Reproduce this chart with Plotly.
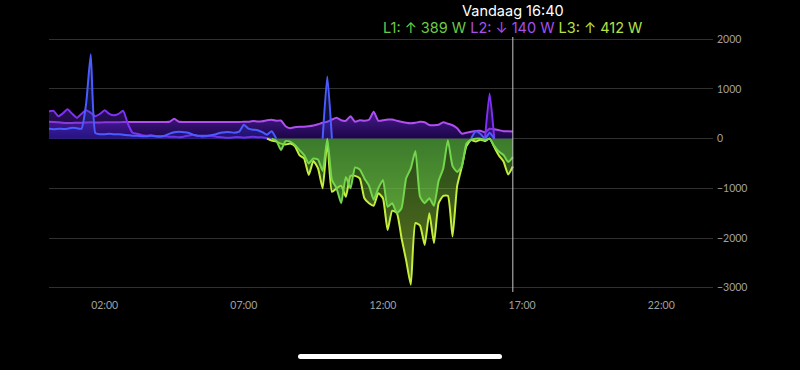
import plotly.graph_objects as go

# ---------------- data (10-minute samples from 00:00 to 16:40, watts) ----------------
START_HOUR = 0.0
STEP_MINUTES = 10

L1 = [200, 190, 200, 195, 200, 220, 210, 200, 700, 1700,
      110, 90, 90, 100, 90, 90, 80, 70, 60, 60,
      50, 50, 60, 50, 50, 60, 100, 130, 140, 130,
      120, 80, 60, 60, 60, 70, 90, 120, 130, 130,
      120, 140, 280, 200, 180, 170, 130, 80, 150, -40,
      -230, -50, -60, -130, -230, -330, -500, -400, -420, -650,
      1250, -830, -1000, -1300, -770, -1000, -580, -620, -800, -950,
      -1230, -1000, -830, -1370, -1300, -1500, -1400, -800, -600, -250,
      -1170, -1300, -1200, -1350, -850, -600, -30, -550, -670, -560,
      -100, -20, 150, 100, -30, 120, -150, -260, -330, -470,
      -370]

L2 = [340, 335, 330, 320, 315, 315, 320, 320, 325, 330,
      325, 325, 330, 330, 330, 330, 335, 335, 335, 335,
      335, 335, 335, 335, 335, 335, 340, 400, 340, 335,
      335, 335, 335, 335, 335, 335, 335, 335, 335, 335,
      335, 335, 340, 340, 355, 345, 350, 370, 380, 360,
      365, 250, 210, 230, 237, 240, 250, 265, 290, 320,
      340, 385, 420, 370, 360, 450, 340, 370, 360, 380,
      540, 360, 370, 385, 385, 360, 340, 320, 310, 320,
      340, 330, 275, 270, 280, 330, 300, 270, 210, 100,
      120, 140, 155, 157, 130, 200, 190, 170, 150, 150,
      145]

L3 = [550, 560, 450, 510, 590, 500, 420, 500, 570, 520,
      450, 500, 570, 500, 470, 500, 560, 300, 120, 100,
      70, 60, 70, 50, 40, 50, 40, 40, 30, 40,
      60, 80, 60, 40, 50, 60, 40, 30, 20, 20,
      30, 30, 20, 30, 40, 30, 30, 10, -40, -60,
      -100, -120, -100, -150, -330, -400, -730, -450, -600, -1000,
      -50, -1070, -1000, -950, -1170, -750, -750, -800, -1200, -1300,
      -1350, -1100, -1200, -1840, -1450, -1500, -2000, -2450, -2940, -1700,
      -1750, -2140, -1500, -2100, -1300, -1150, -1150, -1970, -950, -570,
      -150, -30, -60, -20, -50, 910, -170, -340, -460, -720,
      -560]

TIMES = [START_HOUR + i * STEP_MINUTES / 60 for i in range(len(L1))]

X_TICK_HOURS = [2, 7, 12, 17, 22]
X_TICK_LABELS = ["02:00", "07:00", "12:00", "17:00", "22:00"]
Y_TICKS = [2000, 1000, 0, -1000, -2000, -3000]

CURSOR_HOUR = 16 + 40 / 60
HEADER = "Vandaag 16:40"
READOUT_NAMES = ["L1", "L2", "L3"]
READOUT_ARROWS = ["↑", "↓", "↑"]
READOUT_WATTS = [389, 140, 412]
READOUT_COLORS = ["#6cca48", "#a64ff0", "#b6e245"]

# ---------------- helpers ----------------
def part(vals, sign):
    raw = [v if v * sign > 0 else 0 for v in vals]
    n = len(raw)
    out = []
    for i, v in enumerate(raw):
        if v != 0:
            out.append(v)
        elif (i > 0 and raw[i - 1] != 0) or (i < n - 1 and raw[i + 1] != 0):
            out.append(0)
        else:
            out.append(None)
    return out


def area(vals, line_color, c_low, c_high):
    return go.Scatter(
        x=TIMES, y=vals, mode="lines",
        line=dict(color=line_color, width=2, shape="spline", smoothing=0.5),
        fill="tozeroy",
        fillgradient=dict(type="vertical", colorscale=[[0, c_low], [1, c_high]]),
        hoverinfo="skip", showlegend=False, connectgaps=False,
    )


fig = go.Figure()
# positive (consumption) parts
fig.add_trace(area(part(L2, 1), "#b04ef2", "rgba(45,8,120,0.6)", "rgba(120,45,235,0.6)"))
fig.add_trace(area(part(L3, 1), "#8030f6", "rgba(55,12,150,0.4)", "rgba(125,55,245,0.4)"))
fig.add_trace(area(part(L1, 1), "#4a5cff", "rgba(40,50,200,0.25)", "rgba(70,90,255,0.3)"))
# negative (production) parts
fig.add_trace(area(part(L3, -1), "#c4ee3e", "rgba(185,230,60,0.5)", "rgba(85,165,55,0.45)"))
fig.add_trace(area(part(L1, -1), "#74d64c", "rgba(110,210,75,0.55)", "rgba(80,170,62,0.5)"))

axis_font = dict(family="Lato", size=10.5, color="#a0a0a0")

fig.update_xaxes(
    range=[0, 23.86], tickmode="array", tickvals=X_TICK_HOURS, ticktext=X_TICK_LABELS,
    showgrid=False, zeroline=False, showline=False, ticks="", tickfont=axis_font,
    ticklabelstandoff=5, fixedrange=True,
)
fig.update_yaxes(
    range=[-3087, 2046], side="right", tickmode="array", tickvals=Y_TICKS,
    showgrid=True, gridcolor="#303030", gridwidth=1, zeroline=False, showline=False,
    ticks="", tickfont=axis_font, ticklabelstandoff=3, fixedrange=True,
)

# cursor line
fig.add_shape(type="line", xref="x", yref="paper", x0=CURSOR_HOUR, x1=CURSOR_HOUR,
              y0=0, y1=1, line=dict(color="#c8c8c8", width=1), layer="above")

# header
readout = " ".join(
    f'<span style="color:{c}">{n}: {a} {w} W</span>'
    for n, a, w, c in zip(READOUT_NAMES, READOUT_ARROWS, READOUT_WATTS, READOUT_COLORS)
)
fig.add_annotation(x=CURSOR_HOUR, xref="x", y=1, yref="paper", yanchor="middle",
                   yshift=26.5, text=HEADER, showarrow=False,
                   font=dict(family="Inter", size=14.5, color="#ffffff"))
fig.add_annotation(x=CURSOR_HOUR, xref="x", y=1, yref="paper", yanchor="middle",
                   yshift=9.5, text=readout, showarrow=False,
                   font=dict(family="Inter", size=14.5, color="#ffffff"))

# home indicator bar
x0, x1 = (298 - 49) / 664, (502 - 49) / 664
yc = (292 - 356.5) / 255
hh = 2.5 / 255
rx = 2.5 / 664
path = (f"M {x0+rx},{yc+hh} L {x1-rx},{yc+hh} Q {x1},{yc+hh} {x1},{yc} "
        f"Q {x1},{yc-hh} {x1-rx},{yc-hh} L {x0+rx},{yc-hh} Q {x0},{yc-hh} {x0},{yc} "
        f"Q {x0},{yc+hh} {x0+rx},{yc+hh} Z")
fig.add_shape(type="path", xref="paper", yref="paper", path=path,
              fillcolor="#ffffff", line=dict(width=0))

fig.update_layout(
    width=800, height=370, margin=dict(l=49, r=87, t=37, b=78),
    paper_bgcolor="#000000", plot_bgcolor="#000000",
    hovermode=False, showlegend=False,
)

fig.write_html("out.html", config={"displayModeBar": False})
